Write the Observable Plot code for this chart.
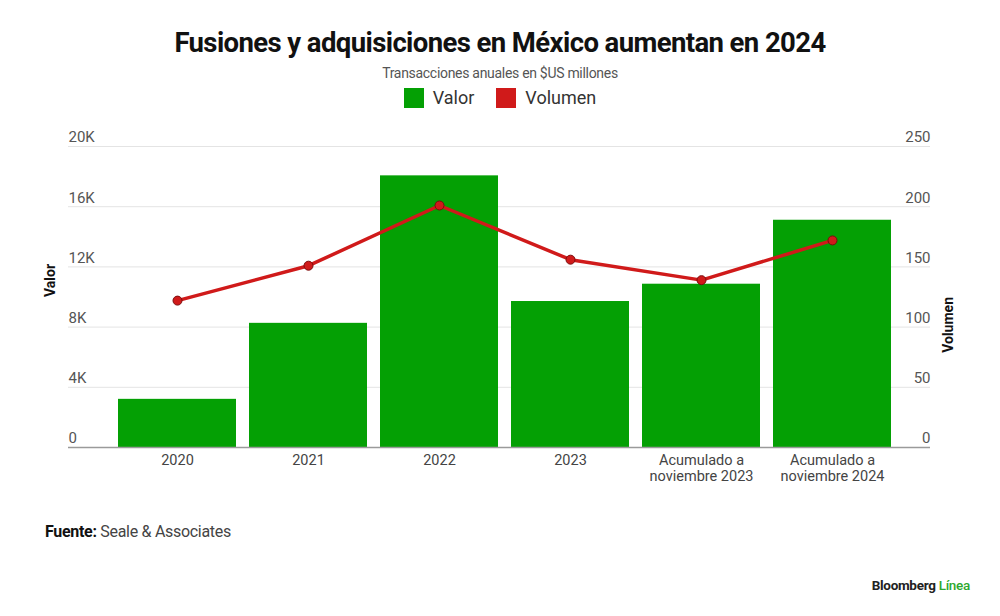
<!DOCTYPE html>
<html>
<head>
<meta charset="utf-8">
<script src="https://cdn.jsdelivr.net/npm/d3@7"></script>
<script src="https://cdn.jsdelivr.net/npm/@observablehq/plot@0.6"></script>
<style>
  body { margin: 0; background: #fff; font-family: "Roboto", "Liberation Sans", sans-serif; }
  #page { position: relative; width: 1000px; height: 616px; overflow: hidden; background: #fff; }
  #title { position: absolute; top: 26px; left: 0; width: 1000px; text-align: center; font-size: 27.5px; font-weight: 700; color: #111; letter-spacing: -0.6px; }
  #subtitle { position: absolute; top: 65px; left: 0; width: 1000px; text-align: center; font-size: 14px; color: #555; letter-spacing: -0.3px; }
  #legend { position: absolute; top: 87px; left: 0; width: 1000px; display: flex; justify-content: center; align-items: center; font-size: 18px; color: #333; }
  #legend .sw { width: 20px; height: 20px; display: inline-block; margin-right: 9px; }
  #legend .item { display: flex; align-items: center; margin: 0 11px; }
  #chart { position: absolute; top: 120px; left: 0; }
  #source { position: absolute; top: 522px; left: 45px; font-size: 16px; color: #444; letter-spacing: -0.3px; }
  #source b { color: #111; }
  #brand { position: absolute; top: 577px; right: 30px; font-size: 13.5px; font-weight: 700; color: #222; letter-spacing: -0.3px; }
  #brand span { color: #2ea82e; font-weight: 500; }
</style>
</head>
<body>
<div id="page">
  <div id="title">Fusiones y adquisiciones en México aumentan en 2024</div>
  <div id="subtitle">Transacciones anuales en $US millones</div>
  <div id="legend"></div>
  <div id="chart"></div>
  <div id="source"><b>Fuente:</b> Seale &amp; Associates</div>
  <div id="brand">Bloomberg <span>Línea</span></div>
</div>
<script>
const categories = ["2020", "2021", "2022", "2023", "Acumulado a\nnoviembre 2023", "Acumulado a\nnoviembre 2024"];
const valor = [3200, 8250, 18050, 9700, 10850, 15100];
const volumen = [122, 151, 201, 156, 139, 172];
const valorTicks = [0, 4000, 8000, 12000, 16000, 20000];
const valorTickLabels = ["0", "4K", "8K", "12K", "16K", "20K"];
const volumenTicks = [0, 50, 100, 150, 200, 250];
const seriesNames = ["Valor", "Volumen"];
const seriesColors = ["#04a004", "#d01a1a"];

const valorMax = 20000, volumenMax = 250;
const k = valorMax / volumenMax;

const data = categories.map((c, i) => ({cat: c, valor: valor[i], volumen: volumen[i]}));

// legend
const legend = document.getElementById("legend");
seriesNames.forEach((n, i) => {
  const it = document.createElement("div");
  it.className = "item";
  it.innerHTML = `<span class="sw" style="background:${seriesColors[i]}"></span>${n}`;
  legend.appendChild(it);
});

const chart = Plot.plot({
  width: 1000,
  height: 380,
  marginTop: 26,
  marginBottom: 53,
  marginLeft: 68,
  marginRight: 70,
  style: {fontFamily: "Roboto, 'Liberation Sans', sans-serif", background: "#fff"},
  x: {domain: categories, paddingInner: 0.1, paddingOuter: 0.325, align: 0.56, label: null},
  y: {domain: [0, valorMax], label: null},
  marks: [
    Plot.ruleY(valorTicks.slice(1), {stroke: "#e4e4e4", strokeWidth: 1}),
    Plot.barY(data, {x: "cat", y: "valor", fill: seriesColors[0]}),
    Plot.ruleY([0], {stroke: "#9a9a9a", strokeWidth: 1.5}),
    Plot.line(data, {x: "cat", y: d => d.volumen * k, stroke: seriesColors[1], strokeWidth: 3.5}),
    Plot.dot(data, {x: "cat", y: d => d.volumen * k, r: 4.5, fill: seriesColors[1], stroke: "#7a0c0c", strokeWidth: 1}),
    Plot.text(valorTicks, {y: d => d, frameAnchor: "left", textAnchor: "start", text: (d, i) => valorTickLabels[i], dy: -9, fontSize: 15, fill: "#555"}),
    Plot.text(volumenTicks, {y: d => d * k, frameAnchor: "right", textAnchor: "end", text: d => String(d), dy: -9, fontSize: 15, fill: "#555"}),
    Plot.axisX({tickSize: 0, tickPadding: 7, fontSize: 14.5, lineHeight: 1.05, color: "#444", label: null}),
    Plot.axisY({ticks: [], tickSize: 0, label: null}),
    Plot.text(["Valor"], {frameAnchor: "left", dx: -18, rotate: -90, fontSize: 14, fontWeight: "bold", fill: "#111"}),
    Plot.text(["Volumen"], {frameAnchor: "right", dx: 18, rotate: -90, fontSize: 14, fontWeight: "bold", fill: "#111"})
  ]
});
document.getElementById("chart").appendChild(chart);
</script>
</body>
</html>
